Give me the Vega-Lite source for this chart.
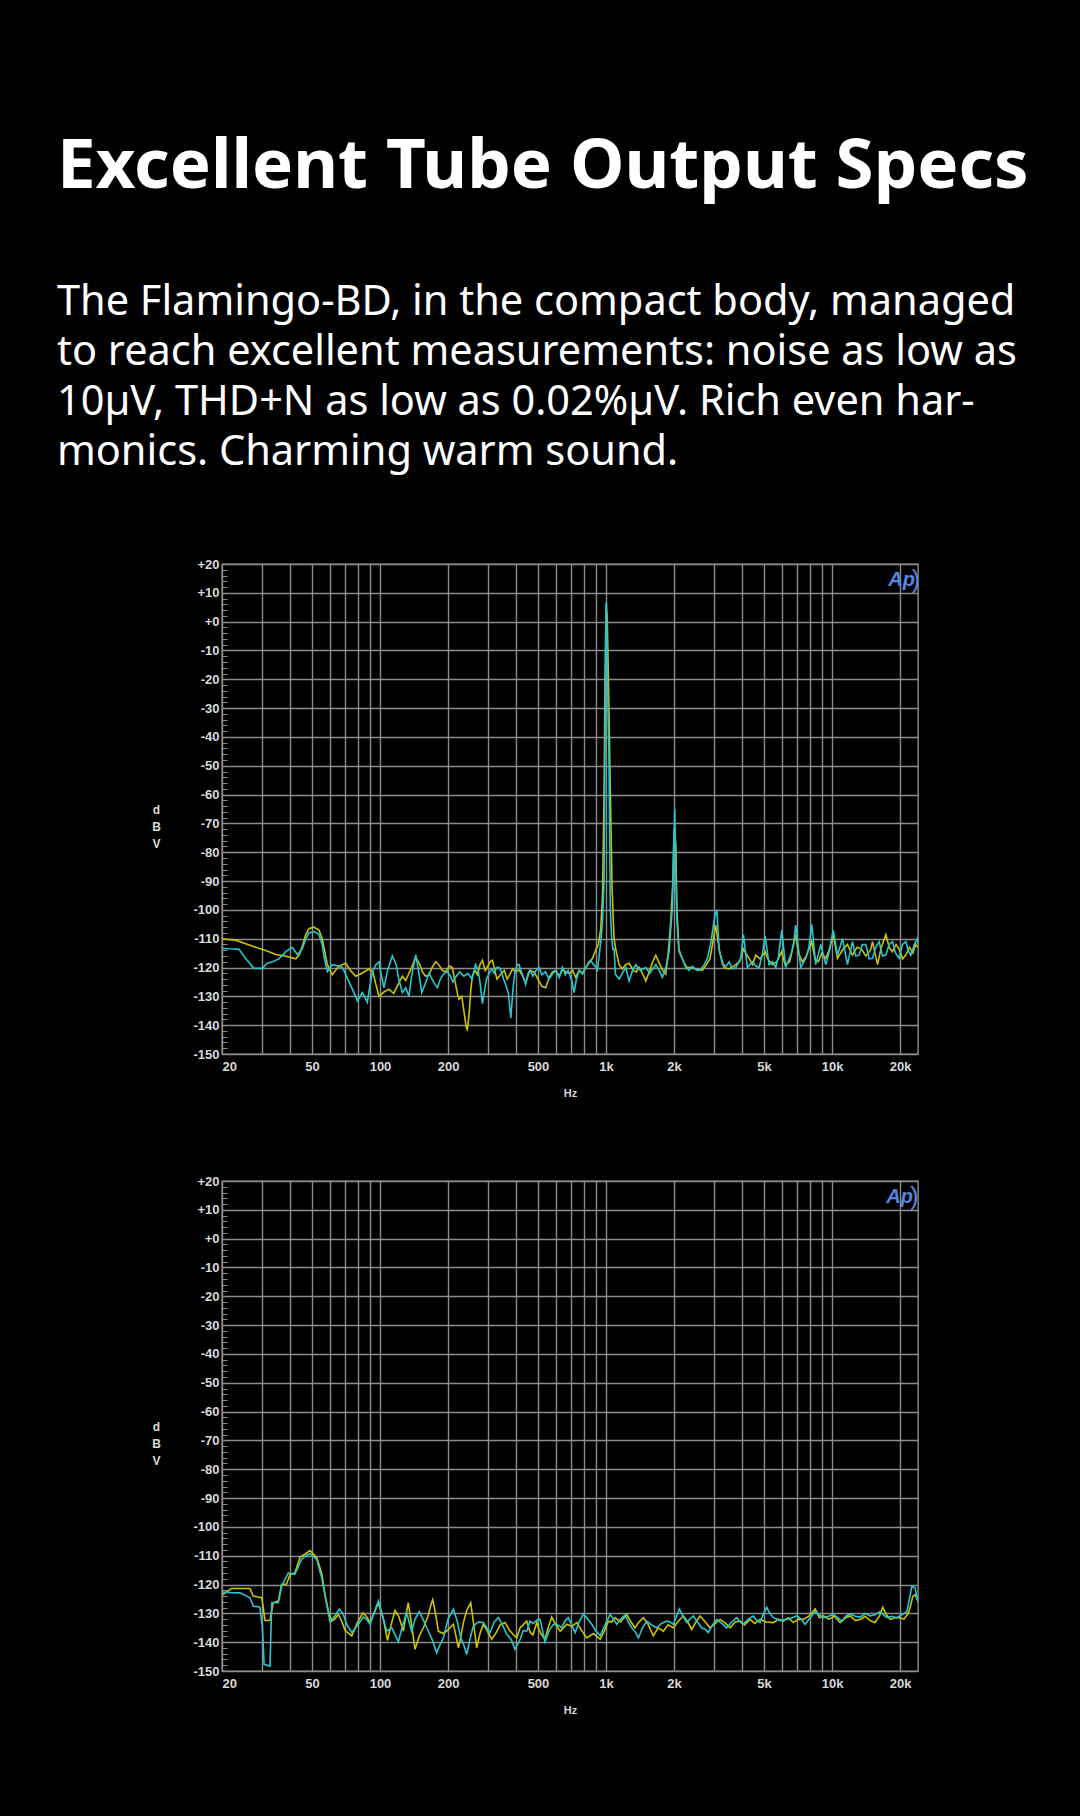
{
  "$schema": "https://vega.github.io/schema/vega-lite/v6.json",
  "background": "#000000",
  "padding": {"left": 56, "top": 132, "right": 55, "bottom": 103},
  "title": {
    "text": "Excellent Tube Output Specs",
    "subtitle": ["The Flamingo-BD, in the compact body, managed", "to reach excellent measurements: noise as low as", "10µV, THD+N as low as 0.02%µV. Rich even har-", "monics. Charming warm sound."],
    "anchor": "start", "frame": "bounds", "dx": -94,
    "font": "Noto Sans", "fontSize": 69, "fontWeight": "bold", "color": "#ffffff",
    "subtitleFont": "Noto Sans", "subtitleFontSize": 41.5, "subtitleFontWeight": "normal", "subtitleColor": "#ffffff",
    "subtitleLineHeight": 50, "subtitlePadding": 80, "offset": 84
  },
  "datasets": {
    "c1y": [{"f":20,"db":-110},{"f":23,"db":-110.5},{"f":26,"db":-112},{"f":28.2,"db":-113},{"f":31,"db":-114},{"f":34.6,"db":-115.5},{"f":38,"db":-116},{"f":42.4,"db":-117},{"f":44,"db":-115.5},{"f":45.3,"db":-112.6},{"f":47,"db":-108.5},{"f":48.5,"db":-106.5},{"f":51,"db":-106},{"f":53.7,"db":-107},{"f":55.5,"db":-110},{"f":56.5,"db":-113},{"f":58.5,"db":-119},{"f":61.5,"db":-122.5},{"f":63.5,"db":-121},{"f":65.9,"db":-119.5},{"f":70.5,"db":-118.5},{"f":74,"db":-121},{"f":78.1,"db":-123},{"f":83,"db":-122},{"f":89.4,"db":-120.5},{"f":93,"db":-121.5},{"f":96,"db":-126},{"f":99,"db":-130},{"f":104,"db":-128.5},{"f":109.6,"db":-127.5},{"f":115,"db":-129},{"f":120,"db":-126},{"f":125.6,"db":-123},{"f":130,"db":-124.5},{"f":134.3,"db":-122},{"f":138,"db":-120},{"f":143.9,"db":-116.5},{"f":150,"db":-119},{"f":154,"db":-121.5},{"f":159.3,"db":-123},{"f":165,"db":-122.5},{"f":170,"db":-120},{"f":176.5,"db":-118},{"f":182,"db":-119},{"f":188.8,"db":-121},{"f":195,"db":-121.5},{"f":203,"db":-119.5},{"f":209,"db":-120},{"f":215,"db":-125},{"f":220,"db":-129},{"f":223.8,"db":-131},{"f":230,"db":-130},{"f":236,"db":-136},{"f":241,"db":-141},{"f":243.5,"db":-141.5},{"f":248,"db":-136},{"f":252,"db":-128},{"f":256.3,"db":-123},{"f":263,"db":-121},{"f":270,"db":-122.5},{"f":277,"db":-119},{"f":283.9,"db":-117.5},{"f":292,"db":-121},{"f":300,"db":-119.5},{"f":307,"db":-118},{"f":314.3,"db":-117.5},{"f":322,"db":-121},{"f":329,"db":-124},{"f":336.6,"db":-123},{"f":345,"db":-122},{"f":355,"db":-121},{"f":365,"db":-124},{"f":375,"db":-122.5},{"f":385.6,"db":-120.5},{"f":398,"db":-121.5},{"f":412,"db":-120.8},{"f":425,"db":-122.5},{"f":441,"db":-125.4},{"f":460,"db":-121},{"f":481,"db":-121.6},{"f":500,"db":-124},{"f":520,"db":-126.5},{"f":541,"db":-127},{"f":560,"db":-123.5},{"f":580,"db":-121.5},{"f":600,"db":-121},{"f":622,"db":-123},{"f":643,"db":-120.5},{"f":663,"db":-121.6},{"f":690,"db":-122},{"f":712,"db":-121},{"f":734,"db":-123.4},{"f":760,"db":-121},{"f":787,"db":-122},{"f":813,"db":-120},{"f":840,"db":-118.5},{"f":871,"db":-116.8},{"f":900,"db":-114},{"f":925,"db":-112},{"f":948,"db":-106.4},{"f":965,"db":-95},{"f":980,"db":-60},{"f":990,"db":-20},{"f":1000,"db":5},{"f":1012,"db":2},{"f":1025,"db":-20},{"f":1040,"db":-50},{"f":1064,"db":-93},{"f":1085,"db":-110},{"f":1104,"db":-113.6},{"f":1142,"db":-119},{"f":1180,"db":-120.5},{"f":1220,"db":-119},{"f":1265,"db":-118.5},{"f":1320,"db":-121},{"f":1360,"db":-121.5},{"f":1400,"db":-120},{"f":1450,"db":-122},{"f":1500,"db":-124.7},{"f":1560,"db":-121},{"f":1610,"db":-118},{"f":1660,"db":-115.7},{"f":1720,"db":-118.5},{"f":1780,"db":-121},{"f":1837,"db":-122.3},{"f":1880,"db":-116},{"f":1934,"db":-104},{"f":1975,"db":-90},{"f":2000,"db":-72},{"f":2035,"db":-77},{"f":2060,"db":-100},{"f":2100,"db":-113.6},{"f":2150,"db":-116},{"f":2200,"db":-118},{"f":2280,"db":-120},{"f":2380,"db":-120},{"f":2500,"db":-120.5},{"f":2668,"db":-121},{"f":2780,"db":-119},{"f":2880,"db":-117},{"f":2958,"db":-112},{"f":3053,"db":-105.3},{"f":3120,"db":-110},{"f":3180,"db":-114.5},{"f":3330,"db":-120},{"f":3500,"db":-120.5},{"f":3750,"db":-119},{"f":3900,"db":-118},{"f":4053,"db":-113.6},{"f":4150,"db":-115},{"f":4295,"db":-116.8},{"f":4450,"db":-119},{"f":4597,"db":-115.7},{"f":4800,"db":-117},{"f":5055,"db":-114.5},{"f":5200,"db":-117},{"f":5436,"db":-119},{"f":5700,"db":-118},{"f":5989,"db":-114.5},{"f":6200,"db":-119},{"f":6500,"db":-118},{"f":6903,"db":-108.6},{"f":7100,"db":-115},{"f":7400,"db":-118},{"f":7700,"db":-116},{"f":8131,"db":-111},{"f":8400,"db":-117},{"f":8700,"db":-118},{"f":9000,"db":-115},{"f":9380,"db":-116.8},{"f":9700,"db":-114},{"f":10115,"db":-108.6},{"f":10570,"db":-116.8},{"f":11100,"db":-114},{"f":11700,"db":-112},{"f":12300,"db":-115.7},{"f":12900,"db":-113},{"f":13500,"db":-113.6},{"f":14100,"db":-116},{"f":14800,"db":-114},{"f":15100,"db":-111},{"f":15890,"db":-119},{"f":16500,"db":-113},{"f":17300,"db":-108.6},{"f":17900,"db":-113},{"f":18500,"db":-114.5},{"f":19200,"db":-112},{"f":19810,"db":-113.6},{"f":20500,"db":-117},{"f":21200,"db":-115.7},{"f":22000,"db":-113},{"f":22800,"db":-115},{"f":23400,"db":-112},{"f":24000,"db":-113}],
    "c1c": [{"f":20,"db":-113.3},{"f":21.5,"db":-113.5},{"f":23.8,"db":-113.7},{"f":25.5,"db":-117},{"f":27.7,"db":-120.3},{"f":30.1,"db":-120.3},{"f":31.7,"db":-118.5},{"f":33.5,"db":-118},{"f":35.7,"db":-117},{"f":38.3,"db":-114.5},{"f":40.9,"db":-113},{"f":43.1,"db":-115.5},{"f":45.3,"db":-113.5},{"f":47,"db":-110},{"f":48.5,"db":-108},{"f":51,"db":-107.5},{"f":53.7,"db":-108.5},{"f":55.5,"db":-112},{"f":56.5,"db":-116},{"f":58.5,"db":-121.5},{"f":61.5,"db":-119},{"f":65,"db":-119.5},{"f":68.2,"db":-120},{"f":73,"db":-125},{"f":76,"db":-128},{"f":79.4,"db":-131.5},{"f":83.6,"db":-128.7},{"f":87.9,"db":-132},{"f":90,"db":-127},{"f":92.5,"db":-121.5},{"f":96,"db":-119},{"f":99,"db":-118},{"f":101.5,"db":-123},{"f":104.2,"db":-127},{"f":108,"db":-121},{"f":113.4,"db":-116},{"f":118,"db":-119},{"f":121,"db":-124},{"f":125.6,"db":-128.7},{"f":130,"db":-127},{"f":134.3,"db":-130},{"f":138,"db":-123},{"f":143.9,"db":-115.5},{"f":148,"db":-121},{"f":153,"db":-128.7},{"f":158,"db":-126},{"f":164.8,"db":-122},{"f":170,"db":-124},{"f":174,"db":-125.5},{"f":179.5,"db":-127},{"f":185,"db":-124},{"f":192,"db":-122},{"f":198.6,"db":-121.5},{"f":205,"db":-123},{"f":210,"db":-125},{"f":216.3,"db":-123.3},{"f":225,"db":-121.5},{"f":235,"db":-123},{"f":245,"db":-122},{"f":255,"db":-124},{"f":264.8,"db":-119},{"f":272,"db":-121},{"f":278,"db":-126},{"f":283.9,"db":-132.5},{"f":290,"db":-128},{"f":296,"db":-124},{"f":303.9,"db":-122},{"f":312,"db":-120.5},{"f":320,"db":-122},{"f":328,"db":-120},{"f":336.6,"db":-120},{"f":345,"db":-121.5},{"f":352,"db":-124},{"f":360,"db":-126},{"f":370,"db":-129},{"f":379.2,"db":-137.5},{"f":388,"db":-127},{"f":396,"db":-121},{"f":405.6,"db":-119},{"f":412,"db":-118.9},{"f":420,"db":-121},{"f":430,"db":-123},{"f":441,"db":-125.8},{"f":452,"db":-122},{"f":462,"db":-121},{"f":475,"db":-123},{"f":490,"db":-121},{"f":505,"db":-120},{"f":520,"db":-122.5},{"f":540,"db":-121.5},{"f":560,"db":-124},{"f":579,"db":-122.3},{"f":600,"db":-121},{"f":621,"db":-123.5},{"f":641,"db":-120},{"f":660,"db":-122.5},{"f":680,"db":-121},{"f":705,"db":-124.5},{"f":722,"db":-128.7},{"f":740,"db":-124},{"f":762,"db":-121},{"f":787,"db":-122.3},{"f":815,"db":-120},{"f":840,"db":-118},{"f":856,"db":-117.5},{"f":880,"db":-119},{"f":905,"db":-120},{"f":916,"db":-120.8},{"f":932,"db":-116},{"f":948,"db":-111},{"f":965,"db":-104},{"f":980,"db":-90},{"f":990,"db":-40},{"f":1000,"db":6.6},{"f":1005,"db":6},{"f":1010,"db":-5},{"f":1020,"db":-30},{"f":1030,"db":-45},{"f":1045,"db":-100},{"f":1060,"db":-110},{"f":1072,"db":-113.6},{"f":1086,"db":-113.6},{"f":1100,"db":-122.3},{"f":1142,"db":-124},{"f":1180,"db":-122},{"f":1223,"db":-120},{"f":1265,"db":-124.7},{"f":1310,"db":-121},{"f":1354,"db":-119},{"f":1420,"db":-121},{"f":1500,"db":-120},{"f":1560,"db":-122},{"f":1610,"db":-120.5},{"f":1660,"db":-119},{"f":1720,"db":-121},{"f":1775,"db":-123.4},{"f":1840,"db":-120},{"f":1901,"db":-114.5},{"f":1968,"db":-98.4},{"f":1990,"db":-80},{"f":2014,"db":-65},{"f":2040,"db":-90},{"f":2060,"db":-104},{"f":2105,"db":-114.5},{"f":2177,"db":-116.8},{"f":2254,"db":-120},{"f":2330,"db":-121},{"f":2411,"db":-119.6},{"f":2520,"db":-121},{"f":2625,"db":-120.7},{"f":2720,"db":-119},{"f":2811,"db":-116.8},{"f":2900,"db":-112},{"f":2958,"db":-107.5},{"f":3030,"db":-102},{"f":3093,"db":-100},{"f":3164,"db":-113.6},{"f":3274,"db":-119},{"f":3400,"db":-119.5},{"f":3503,"db":-118},{"f":3620,"db":-120.5},{"f":3750,"db":-120},{"f":3946,"db":-116.8},{"f":4053,"db":-108.6},{"f":4221,"db":-120},{"f":4443,"db":-118},{"f":4600,"db":-119.5},{"f":4756,"db":-120},{"f":4900,"db":-116},{"f":5055,"db":-109},{"f":5265,"db":-119},{"f":5450,"db":-118},{"f":5634,"db":-120},{"f":5800,"db":-116},{"f":5989,"db":-107},{"f":6236,"db":-120},{"f":6562,"db":-115.7},{"f":6750,"db":-112},{"f":6903,"db":-105.3},{"f":7269,"db":-120},{"f":7651,"db":-116.8},{"f":7900,"db":-113},{"f":8131,"db":-105},{"f":8469,"db":-119},{"f":8913,"db":-112},{"f":9380,"db":-119},{"f":9750,"db":-114},{"f":10115,"db":-107},{"f":10570,"db":-115.7},{"f":11120,"db":-110},{"f":11700,"db":-119},{"f":12310,"db":-111},{"f":12700,"db":-116},{"f":13180,"db":-115.7},{"f":13600,"db":-112},{"f":14110,"db":-112},{"f":14600,"db":-117},{"f":15100,"db":-116.8},{"f":15600,"db":-113},{"f":16160,"db":-111},{"f":16700,"db":-116},{"f":17300,"db":-115.7},{"f":17900,"db":-112},{"f":18500,"db":-111},{"f":19100,"db":-115},{"f":19810,"db":-116.8},{"f":20500,"db":-112},{"f":21200,"db":-111},{"f":21700,"db":-114},{"f":22300,"db":-115.7},{"f":23100,"db":-112},{"f":23870,"db":-110},{"f":24000,"db":-112}],
    "c2y": [{"f":20,"db":-123.7},{"f":22,"db":-121.4},{"f":24,"db":-121.4},{"f":26.6,"db":-121.4},{"f":27.5,"db":-124},{"f":30,"db":-124.6},{"f":31,"db":-132.5},{"f":32.6,"db":-132.5},{"f":33.7,"db":-126.3},{"f":35.5,"db":-125.7},{"f":36.7,"db":-120},{"f":38.6,"db":-119.8},{"f":40,"db":-116.5},{"f":42,"db":-116},{"f":44.3,"db":-110.5},{"f":46.5,"db":-109.5},{"f":49,"db":-108.2},{"f":52.5,"db":-110.7},{"f":55.2,"db":-116},{"f":57.1,"db":-123.5},{"f":59.1,"db":-129.2},{"f":61.1,"db":-132.7},{"f":63,"db":-132},{"f":65.4,"db":-130.4},{"f":68,"db":-133},{"f":70,"db":-135.9},{"f":75,"db":-137.8},{"f":79,"db":-133.6},{"f":84,"db":-129.8},{"f":87,"db":-131},{"f":90.4,"db":-133.2},{"f":94,"db":-130},{"f":98.4,"db":-126.3},{"f":103.5,"db":-132},{"f":107.9,"db":-139.4},{"f":112,"db":-134},{"f":116.5,"db":-129},{"f":121,"db":-131},{"f":126.9,"db":-136.2},{"f":130,"db":-131},{"f":133.4,"db":-126.3},{"f":138,"db":-134},{"f":142.9,"db":-142.5},{"f":149,"db":-138},{"f":155.6,"db":-135},{"f":163,"db":-131},{"f":168,"db":-127},{"f":171.1,"db":-125.2},{"f":176,"db":-130},{"f":181.3,"db":-136.2},{"f":190,"db":-137},{"f":197.3,"db":-136.2},{"f":204,"db":-135},{"f":211.3,"db":-133.8},{"f":217,"db":-138},{"f":222.3,"db":-142},{"f":228,"db":-138},{"f":233.8,"db":-133.2},{"f":242,"db":-129},{"f":251.9,"db":-126.3},{"f":260,"db":-134},{"f":267.8,"db":-142},{"f":277,"db":-137},{"f":286.5,"db":-133.8},{"f":298,"db":-136},{"f":312,"db":-139},{"f":325,"db":-137},{"f":340,"db":-134},{"f":357.3,"db":-133.2},{"f":375,"db":-136},{"f":390,"db":-137.5},{"f":402.8,"db":-138.5},{"f":417,"db":-135},{"f":430,"db":-134},{"f":445.8,"db":-132.7},{"f":461,"db":-136.5},{"f":475,"db":-137.5},{"f":494,"db":-133.2},{"f":502,"db":-135},{"f":515,"db":-137},{"f":537,"db":-139},{"f":555,"db":-135},{"f":575,"db":-131.3},{"f":600,"db":-134},{"f":627,"db":-136.2},{"f":650,"db":-135},{"f":670,"db":-133.8},{"f":705,"db":-134.5},{"f":743,"db":-133.2},{"f":780,"db":-136},{"f":822,"db":-138.5},{"f":880,"db":-137},{"f":942,"db":-139},{"f":985,"db":-136},{"f":1024,"db":-132.7},{"f":1060,"db":-133},{"f":1096,"db":-131.5},{"f":1160,"db":-133},{"f":1234,"db":-130.4},{"f":1290,"db":-133},{"f":1343,"db":-135},{"f":1400,"db":-133},{"f":1463,"db":-131.5},{"f":1540,"db":-134},{"f":1619,"db":-137.8},{"f":1700,"db":-135},{"f":1795,"db":-136.2},{"f":1880,"db":-134},{"f":1986,"db":-135},{"f":2100,"db":-132.5},{"f":2198,"db":-130.9},{"f":2300,"db":-133},{"f":2395,"db":-135.6},{"f":2500,"db":-133},{"f":2606,"db":-130.9},{"f":2750,"db":-133},{"f":2885,"db":-135},{"f":3040,"db":-133.5},{"f":3198,"db":-132.1},{"f":3380,"db":-133.5},{"f":3541,"db":-135},{"f":3720,"db":-133},{"f":3920,"db":-132.7},{"f":4100,"db":-134},{"f":4339,"db":-132.1},{"f":4550,"db":-133.5},{"f":4806,"db":-132.1},{"f":5100,"db":-133},{"f":5505,"db":-133.2},{"f":5800,"db":-132},{"f":6095,"db":-132.7},{"f":6400,"db":-131.5},{"f":6746,"db":-133.2},{"f":7100,"db":-132},{"f":7467,"db":-132.1},{"f":7900,"db":-131},{"f":8421,"db":-128.5},{"f":8800,"db":-131.5},{"f":9170,"db":-130.9},{"f":9700,"db":-132},{"f":10260,"db":-131},{"f":10860,"db":-133.2},{"f":11500,"db":-131.5},{"f":12020,"db":-130.9},{"f":12700,"db":-132.5},{"f":13310,"db":-132.1},{"f":14000,"db":-131},{"f":14730,"db":-132.5},{"f":15490,"db":-133.2},{"f":16200,"db":-131},{"f":16760,"db":-127.9},{"f":17400,"db":-130.5},{"f":18070,"db":-132.1},{"f":19000,"db":-131.5},{"f":20000,"db":-131.5},{"f":20800,"db":-132},{"f":21770,"db":-129.9},{"f":22300,"db":-127},{"f":22760,"db":-124.1},{"f":23300,"db":-123.5},{"f":24000,"db":-125.7}],
    "c2c": [{"f":20,"db":-122.6},{"f":22,"db":-122.8},{"f":24,"db":-122.9},{"f":26.6,"db":-124.6},{"f":27.5,"db":-127.5},{"f":29.4,"db":-127.8},{"f":30.2,"db":-135},{"f":30.7,"db":-147.7},{"f":32.6,"db":-148.3},{"f":33.2,"db":-126.3},{"f":35.5,"db":-126.3},{"f":36.7,"db":-120.6},{"f":39.3,"db":-116},{"f":42,"db":-116.5},{"f":45,"db":-111.3},{"f":47,"db":-110},{"f":49,"db":-109.3},{"f":52.5,"db":-111.3},{"f":55.2,"db":-117.6},{"f":57.7,"db":-125.7},{"f":60.1,"db":-132.8},{"f":63,"db":-131},{"f":66.1,"db":-128.5},{"f":68.5,"db":-130},{"f":71.3,"db":-133.8},{"f":75,"db":-136.7},{"f":80.2,"db":-133.8},{"f":84.4,"db":-131.3},{"f":87,"db":-132},{"f":90.4,"db":-133.8},{"f":94,"db":-130},{"f":98.4,"db":-125.7},{"f":102,"db":-130},{"f":107.1,"db":-136.2},{"f":112.7,"db":-135},{"f":116,"db":-137},{"f":120.6,"db":-139.9},{"f":126,"db":-134},{"f":131.3,"db":-129.9},{"f":138.1,"db":-136.2},{"f":143,"db":-132},{"f":149.2,"db":-129.4},{"f":155,"db":-132},{"f":161,"db":-135},{"f":170,"db":-139},{"f":178.3,"db":-143.7},{"f":184,"db":-141},{"f":190.8,"db":-138.5},{"f":200,"db":-132},{"f":211.3,"db":-128.5},{"f":220,"db":-133},{"f":227.6,"db":-138.5},{"f":235,"db":-141},{"f":242,"db":-144.3},{"f":250,"db":-139},{"f":258.8,"db":-134.4},{"f":272,"db":-133},{"f":286.5,"db":-133.2},{"f":296,"db":-135},{"f":306.8,"db":-136.7},{"f":320,"db":-133},{"f":334.2,"db":-131.5},{"f":348,"db":-134},{"f":364,"db":-137.3},{"f":380,"db":-139},{"f":395.8,"db":-142.5},{"f":417,"db":-139},{"f":430,"db":-136},{"f":445.8,"db":-136.2},{"f":461,"db":-132.7},{"f":475,"db":-133.5},{"f":502,"db":-132},{"f":511,"db":-132.1},{"f":537,"db":-139.9},{"f":560,"db":-136},{"f":585,"db":-133.8},{"f":610,"db":-134},{"f":637,"db":-135},{"f":660,"db":-132.5},{"f":681,"db":-131.5},{"f":705,"db":-134},{"f":730,"db":-136.7},{"f":760,"db":-133},{"f":794,"db":-130.2},{"f":830,"db":-132},{"f":865,"db":-133.8},{"f":900,"db":-136},{"f":942,"db":-137.8},{"f":990,"db":-134},{"f":1043,"db":-130.4},{"f":1080,"db":-132},{"f":1115,"db":-133.8},{"f":1160,"db":-132},{"f":1214,"db":-130.6},{"f":1255,"db":-133},{"f":1300,"db":-135},{"f":1350,"db":-136.5},{"f":1391,"db":-138.5},{"f":1450,"db":-135},{"f":1514,"db":-132.7},{"f":1590,"db":-134},{"f":1675,"db":-135},{"f":1760,"db":-133.5},{"f":1857,"db":-132.7},{"f":1920,"db":-133},{"f":1986,"db":-133.8},{"f":2050,"db":-131},{"f":2110,"db":-128.5},{"f":2190,"db":-131},{"f":2276,"db":-133.2},{"f":2350,"db":-132},{"f":2435,"db":-130.9},{"f":2540,"db":-133},{"f":2650,"db":-135},{"f":2740,"db":-135.5},{"f":2836,"db":-136.7},{"f":2960,"db":-134},{"f":3090,"db":-132.1},{"f":3250,"db":-133.5},{"f":3420,"db":-135},{"f":3600,"db":-133},{"f":3787,"db":-131.5},{"f":3920,"db":-133},{"f":4053,"db":-133.8},{"f":4250,"db":-132},{"f":4490,"db":-130.9},{"f":4650,"db":-132.5},{"f":4806,"db":-133.2},{"f":4980,"db":-130},{"f":5142,"db":-127.9},{"f":5300,"db":-130},{"f":5505,"db":-131.5},{"f":5900,"db":-132.5},{"f":6311,"db":-132.1},{"f":6650,"db":-131.5},{"f":6982,"db":-130.9},{"f":7300,"db":-132},{"f":7604,"db":-133.8},{"f":8000,"db":-131.5},{"f":8421,"db":-129.4},{"f":8800,"db":-130.5},{"f":9170,"db":-131.5},{"f":9650,"db":-131},{"f":10140,"db":-130.4},{"f":10600,"db":-131.5},{"f":11040,"db":-132.7},{"f":11500,"db":-131},{"f":12020,"db":-130.2},{"f":12650,"db":-131},{"f":13310,"db":-131.3},{"f":14000,"db":-130},{"f":14730,"db":-130.9},{"f":15500,"db":-130.5},{"f":16310,"db":-129.4},{"f":16900,"db":-130.5},{"f":17460,"db":-131.5},{"f":18400,"db":-131},{"f":19330,"db":-131.5},{"f":20300,"db":-130.5},{"f":21420,"db":-129.4},{"f":22000,"db":-125},{"f":22540,"db":-120.6},{"f":23300,"db":-121.1},{"f":24000,"db":-126.3}]
  },
  "spacing": 75,
  "vconcat": [
    {
      "width": 696, "height": 490,
      "encoding": {
        "x": {"field": "f", "type": "quantitative", "scale": {"type": "log", "domain": [20, 24000], "nice": false},
          "axis": {"values": [20,30,40,50,60,70,80,90,100,200,300,400,500,600,700,800,900,1000,2000,3000,4000,5000,6000,7000,8000,9000,10000,20000],
            "labelExpr": "indexof([20,50,100,200,500], datum.value) >= 0 ? '' + datum.value : (indexof([1000,2000,5000,10000,20000], datum.value) >= 0 ? (datum.value / 1000) + 'k' : '')",
            "labelFlush": true, "labelOverlap": false, "tickSize": 0, "labelPadding": 6, "title": "Hz", "titlePadding": 14, "titleFontSize": 11}},
        "y": {"field": "db", "type": "quantitative", "scale": {"domain": [-150, 20], "nice": false, "zero": false},
          "axis": {"values": [-150,-148,-146,-144,-142,-140,-138,-136,-134,-132,-130,-128,-126,-124,-122,-120,-118,-116,-114,-112,-110,-108,-106,-104,-102,-100,-98,-96,-94,-92,-90,-88,-86,-84,-82,-80,-78,-76,-74,-72,-70,-68,-66,-64,-62,-60,-58,-56,-54,-52,-50,-48,-46,-44,-42,-40,-38,-36,-34,-32,-30,-28,-26,-24,-22,-20,-18,-16,-14,-12,-10,-8,-6,-4,-2,0,2,4,6,8,10,12,14,16,18,20],
            "labelExpr": "datum.value % 10 === 0 ? (datum.value > 0 ? '+' + datum.value : (datum.value === 0 ? '+0' : '' + datum.value)) : ''",
            "labelOverlap": false,
            "gridOpacity": {"condition": {"test": "datum.value % 10 === 0", "value": 1}, "value": 0},
            "tickSize": -5, "labelPadding": 8,
            "title": ["d", "B", "V"], "titleAngle": 0, "titleAlign": "center", "titleBaseline": "middle", "titleLineHeight": 17, "titlePadding": 3}}
      },
      "layer": [
        {"data": {"name": "c1y"}, "mark": {"type": "line", "color": "#cdc200", "strokeWidth": 1.6, "clip": true}, "encoding": {}},
        {"data": {"name": "c1c"}, "mark": {"type": "line", "color": "#25c6cf", "strokeWidth": 1.6, "clip": true}, "encoding": {}},
        {"data": {"values": [{"f": 20300, "db": 14.4, "t": "Ap"}]}, "mark": {"type": "text", "font": "Liberation Sans", "fontSize": 20, "fontStyle": "italic", "fontWeight": "bold", "color": "#5b84de"}, "encoding": {"text": {"field": "t"}}},
        {"data": {"values": [{"f": 23500, "db": 14.4, "t": ")"}]}, "mark": {"type": "text", "font": "Liberation Sans", "fontSize": 26, "fontWeight": "normal", "color": "#5b84de"}, "encoding": {"text": {"field": "t"}}}
      ]
    },
    {
      "width": 696, "height": 490,
      "encoding": {
        "x": {"field": "f", "type": "quantitative", "scale": {"type": "log", "domain": [20, 24000], "nice": false},
          "axis": {"values": [20,30,40,50,60,70,80,90,100,200,300,400,500,600,700,800,900,1000,2000,3000,4000,5000,6000,7000,8000,9000,10000,20000],
            "labelExpr": "indexof([20,50,100,200,500], datum.value) >= 0 ? '' + datum.value : (indexof([1000,2000,5000,10000,20000], datum.value) >= 0 ? (datum.value / 1000) + 'k' : '')",
            "labelFlush": true, "labelOverlap": false, "tickSize": 0, "labelPadding": 6, "title": "Hz", "titlePadding": 14, "titleFontSize": 11}},
        "y": {"field": "db", "type": "quantitative", "scale": {"domain": [-150, 20], "nice": false, "zero": false},
          "axis": {"values": [-150,-148,-146,-144,-142,-140,-138,-136,-134,-132,-130,-128,-126,-124,-122,-120,-118,-116,-114,-112,-110,-108,-106,-104,-102,-100,-98,-96,-94,-92,-90,-88,-86,-84,-82,-80,-78,-76,-74,-72,-70,-68,-66,-64,-62,-60,-58,-56,-54,-52,-50,-48,-46,-44,-42,-40,-38,-36,-34,-32,-30,-28,-26,-24,-22,-20,-18,-16,-14,-12,-10,-8,-6,-4,-2,0,2,4,6,8,10,12,14,16,18,20],
            "labelExpr": "datum.value % 10 === 0 ? (datum.value > 0 ? '+' + datum.value : (datum.value === 0 ? '+0' : '' + datum.value)) : ''",
            "labelOverlap": false,
            "gridOpacity": {"condition": {"test": "datum.value % 10 === 0", "value": 1}, "value": 0},
            "tickSize": -5, "labelPadding": 8,
            "title": ["d", "B", "V"], "titleAngle": 0, "titleAlign": "center", "titleBaseline": "middle", "titleLineHeight": 17, "titlePadding": 3}}
      },
      "layer": [
        {"data": {"name": "c2y"}, "mark": {"type": "line", "color": "#cdc200", "strokeWidth": 1.6, "clip": true}, "encoding": {}},
        {"data": {"name": "c2c"}, "mark": {"type": "line", "color": "#25c6cf", "strokeWidth": 1.6, "clip": true}, "encoding": {}},
        {"data": {"values": [{"f": 19900, "db": 14.5, "t": "Ap"}]}, "mark": {"type": "text", "font": "Liberation Sans", "fontSize": 20, "fontStyle": "italic", "fontWeight": "bold", "color": "#5b84de"}, "encoding": {"text": {"field": "t"}}},
        {"data": {"values": [{"f": 23100, "db": 14.5, "t": ")"}]}, "mark": {"type": "text", "font": "Liberation Sans", "fontSize": 26, "fontWeight": "normal", "color": "#5b84de"}, "encoding": {"text": {"field": "t"}}}
      ]
    }
  ],
  "config": {
    "view": {"stroke": "#8c8c8c", "strokeWidth": 1.4},
    "axis": {"labelFont": "Liberation Sans", "labelFontSize": 13, "labelFontWeight": "bold", "labelColor": "#d9d9d9",
      "titleFont": "Liberation Sans", "titleFontSize": 12, "titleFontWeight": "bold", "titleColor": "#d9d9d9",
      "grid": true, "gridColor": "#8c8c8c", "gridWidth": 1.4, "tickColor": "#8c8c8c", "tickWidth": 1, "domain": false}
  }
}
